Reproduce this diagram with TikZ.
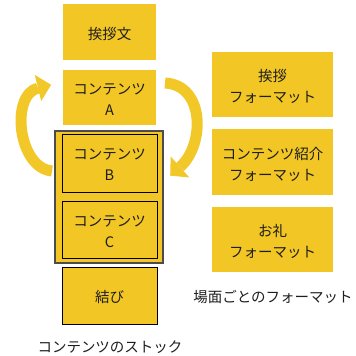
\documentclass[tikz,border=0pt]{standalone}
\usepackage{fontspec}
\setmainfont{Noto Sans CJK JP}
\definecolor{boxy}{RGB}{242,198,36}
\definecolor{arry}{RGB}{242,200,40}
\definecolor{txt}{RGB}{30,30,30}
\begin{document}
\begin{tikzpicture}[x=1pt,y=-1pt,
  lbl/.style={font=\fontsize{14.5}{21}\selectfont, text=txt, align=center},
  plainbox/.style={fill=boxy, inner sep=0pt},
  edgebox/.style={plainbox, draw=black, line width=0.9pt},
  boxtext/.style={label={[lbl, yshift=-2pt]center:{#1}}},
  band/.style={draw=arry, line width=11pt},
  headfill/.style={fill=arry}]
\useasboundingbox (0,0) rectangle (356,356);
% left column
\node[plainbox, minimum width=93pt, minimum height=56pt, boxtext={挨拶文}] (greet) at (109.5,32) {};
\node[plainbox, minimum width=93pt, minimum height=55pt, boxtext={コンテンツ\\A}] (contA) at (109.5,97.5) {};
\node[draw=black!70, line width=1.3pt, fill=boxy, minimum width=108pt, minimum height=132pt, inner sep=0pt] (stack) at (109,197) {};
\node[edgebox, minimum width=95pt, minimum height=58pt, boxtext={コンテンツ\\B}] (contB) at (109.5,163) {};
\node[edgebox, minimum width=95pt, minimum height=57pt, boxtext={コンテンツ\\C}] (contC) at (109.5,229.5) {};
\node[edgebox, minimum width=95pt, minimum height=57pt, boxtext={結び}] (musubi) at (109.5,295.5) {};
\node[lbl] (cap1) at (110,347) {コンテンツのストック};
% right column
\node[plainbox, minimum width=121pt, minimum height=65pt, boxtext={挨拶\\フォーマット}] (fmt1) at (272.5,84.5) {};
\node[plainbox, minimum width=121pt, minimum height=66pt, boxtext={コンテンツ紹介\\フォーマット}] (fmt2) at (272.5,162) {};
\node[plainbox, minimum width=121pt, minimum height=65pt, boxtext={お礼\\フォーマット}] (fmt3) at (272.5,239.5) {};
\node[lbl] (cap2) at (273,297) {場面ごとのフォーマット};
% left cycle arrow
\coordinate (la0) at (52,171);
\coordinate (la1) at (38,88);
\draw[band] (la0) .. controls (18,168) and (10,95) .. (la1);
\fill[headfill] (34.8,74.9) -- (51.1,84.8) -- (41.2,101.1) -- cycle;
% right cycle arrow
\coordinate (ra0) at (165,83);
\coordinate (ra1) at (180,167);
\draw[band] (ra0) .. controls (205,85) and (205,145) .. (ra1);
\fill[headfill] (170.7,156.5) -- (170.2,175.6) -- (189.3,177.5) -- cycle;
\end{tikzpicture}
\end{document}
